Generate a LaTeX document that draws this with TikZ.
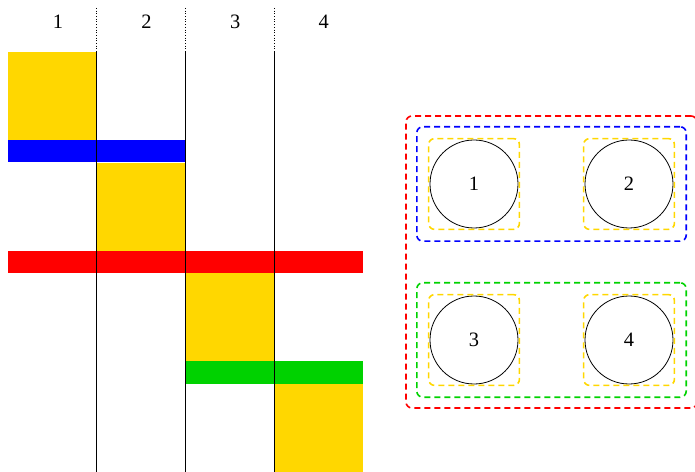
\documentclass[tikz,border=0pt]{standalone}
\usepackage{fontspec}
\setmainfont{Liberation Serif}
\usetikzlibrary{positioning, fit}
\definecolor{gold}{RGB}{255,215,0}
\definecolor{grass}{RGB}{0,210,0}
\tikzset{
  ball/.style={circle, draw, minimum size=88bp, inner sep=0pt, line width=0.8bp},
  group/.style={draw, dashed, dash pattern=on 6bp off 4bp, rounded corners=6bp, line width=1.6bp},
  single/.style={group, draw=gold, inner sep=1bp},
  pair/.style={group, inner sep=11bp},
  outer/.style={group, draw=red, inner sep=10bp}
}

\begin{document}
\begin{tikzpicture}[x=1bp, y=-1bp, font=\fontsize{20.5}{24}\selectfont]
        \useasboundingbox (0,0) rectangle (695,472);

        % Bloques por columna
        \foreach \i in {1,...,4} {
          \fill[gold] ({8+(\i-1)*88.75},{52+(\i-1)*110.67}) rectangle ++(88.75,88);
          \node (col\i) at ({58+(\i-1)*88.6},22) {\i};
        }

        % Barras horizontales
        \fill[blue] (8,140) rectangle (185.5,162.5);
        \fill[red] (8,250.7) rectangle (363,273);
        \fill[grass] (185.5,361.3) rectangle (363,384);

        % Separadores
        \foreach \i in {1,2,3} {
          \draw[dotted, line width=0.7bp] ({8+\i*88.75},8) -- ({8+\i*88.75},52);
          \draw[line width=1.2bp] ({8+\i*88.75},52) -- ({8+\i*88.75},472);
        }

        % Circulos y grupos
        \node[ball] (n1) at (474,184) {1};
        \node[ball] (n2) at (629,184) {2};
        \node[ball] (n3) at (474,340) {3};
        \node[ball] (n4) at (629,340) {4};

        \foreach \i in {1,...,4}
          \node[single, fit=(n\i)] (s\i) {};

        \node[pair, draw=blue, fit=(s1)(s2)] (top) {};
        \node[pair, draw=grass, fit=(s3)(s4)] (bottom) {};
        \node[outer, fit=(top)(bottom)] (all) {};
    \end{tikzpicture}
\end{document}
